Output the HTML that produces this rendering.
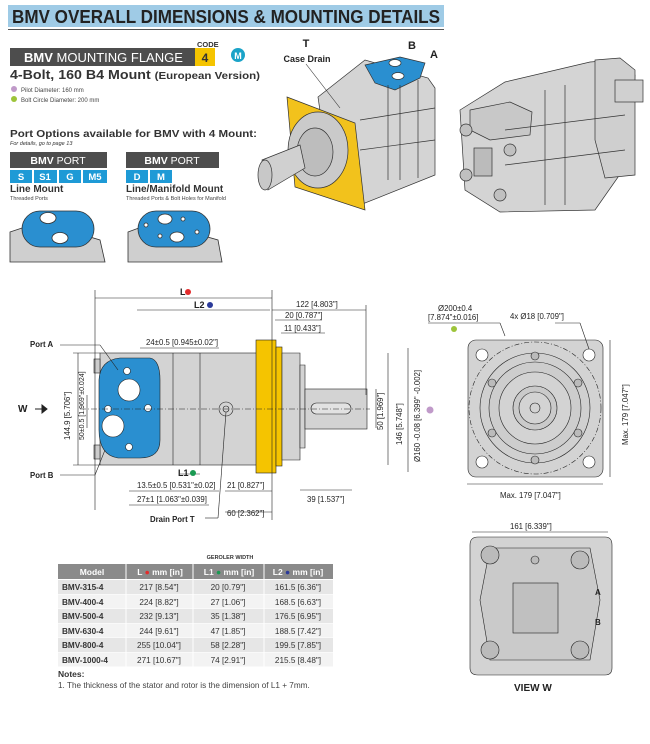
<!DOCTYPE html>
<html><head><meta charset="utf-8"><style>
html,body{margin:0;padding:0;background:#fff}
svg{display:block}
text{font-family:"Liberation Sans",Arial,sans-serif}
</style></head><body>
<svg width="650" height="744" viewBox="0 0 650 744" xmlns="http://www.w3.org/2000/svg">
<!-- Title -->
<rect x="8" y="5" width="436" height="22" fill="#9fcbe6"/>
<text x="12" y="23" font-size="18.5" font-weight="bold" fill="#222" textLength="428" lengthAdjust="spacingAndGlyphs">BMV OVERALL DIMENSIONS &amp; MOUNTING DETAILS</text>
<line x1="8" y1="29.5" x2="444" y2="29.5" stroke="#555" stroke-width="1"/>

<!-- Mounting flange -->
<text x="197" y="47" font-size="7.5" font-weight="bold" fill="#333">CODE</text>
<rect x="10" y="48" width="185" height="18" fill="#4d4d4d"/>
<text x="24" y="62" font-size="13" font-weight="bold" fill="#fff">BMV <tspan font-weight="normal">MOUNTING FLANGE</tspan></text>
<rect x="195" y="48" width="20" height="18" fill="#f5c400"/>
<text x="205" y="62" font-size="12" font-weight="bold" fill="#333" text-anchor="middle">4</text>
<circle cx="238" cy="55" r="7" fill="#1aa3c8"/>
<text x="238" y="59" font-size="9" font-weight="bold" fill="#fff" text-anchor="middle">M</text>
<text x="10" y="79" font-size="13" font-weight="bold" fill="#333" textLength="250" lengthAdjust="spacingAndGlyphs">4-Bolt, 160 B4 Mount <tspan font-size="10.5">(European Version)</tspan></text>
<circle cx="14" cy="89" r="3" fill="#c09ac9"/>
<text x="21" y="92" font-size="6" fill="#444">Pilot Diameter: 160 mm</text>
<circle cx="14" cy="99" r="3" fill="#9dc43a"/>
<text x="21" y="102" font-size="6" fill="#444">Bolt Circle Diameter: 200 mm</text>

<text x="10" y="137" font-size="10.5" font-weight="bold" fill="#333" textLength="247" lengthAdjust="spacingAndGlyphs">Port Options available for BMV with 4 Mount:</text>
<text x="10" y="145" font-size="5.5" font-style="italic" fill="#333">For details, go to page 13</text>

<rect x="10" y="152" width="97" height="16" fill="#4d4d4d"/>
<text x="58" y="164" font-size="10.5" font-weight="bold" fill="#fff" text-anchor="middle">BMV <tspan font-weight="normal">PORT</tspan></text>
<g font-size="9.5" font-weight="bold" fill="#fff" text-anchor="middle">
<rect x="10" y="170" width="22" height="13" fill="#1e9ad6"/><text x="21" y="180">S</text>
<rect x="34" y="170" width="23" height="13" fill="#1e9ad6"/><text x="45" y="180">S1</text>
<rect x="59" y="170" width="22" height="13" fill="#1e9ad6"/><text x="70" y="180">G</text>
<rect x="83" y="170" width="24" height="13" fill="#1e9ad6"/><text x="95" y="180">M5</text>
<rect x="126" y="170" width="22" height="13" fill="#1e9ad6"/><text x="137" y="180">D</text>
<rect x="150" y="170" width="22" height="13" fill="#1e9ad6"/><text x="161" y="180">M</text>
</g>
<text x="10" y="192" font-size="10" font-weight="bold" fill="#333">Line Mount</text>
<text x="10" y="200" font-size="5.5" fill="#444">Threaded Ports</text>
<rect x="126" y="152" width="93" height="16" fill="#4d4d4d"/>
<text x="172" y="164" font-size="10.5" font-weight="bold" fill="#fff" text-anchor="middle">BMV <tspan font-weight="normal">PORT</tspan></text>
<text x="126" y="192" font-size="10" font-weight="bold" fill="#333">Line/Manifold Mount</text>
<text x="126" y="200" font-size="5.5" fill="#444">Threaded Ports &amp; Bolt Holes for Manifold</text>

<!-- port images -->
<g stroke="#333" stroke-width="0.8">
<path d="M10 232 L40 222 L100 240 L105 262 L10 262Z" fill="#cfcfcf"/>
<rect x="22" y="211" width="72" height="36" rx="18" fill="#2a8fd0"/>
<ellipse cx="48" cy="218" rx="8" ry="5.5" fill="#fff"/>
<ellipse cx="60" cy="238" rx="8" ry="5.5" fill="#fff"/>
<path d="M128 232 L155 222 L218 240 L222 262 L128 262Z" fill="#cfcfcf"/>
<rect x="138" y="211" width="72" height="36" rx="18" fill="#2a8fd0"/>
<ellipse cx="165" cy="219" rx="7" ry="5" fill="#fff"/>
<ellipse cx="177" cy="237" rx="7" ry="5" fill="#fff"/>
<circle cx="146" cy="225" r="2" fill="#fff"/><circle cx="160" cy="236" r="2" fill="#fff"/>
<circle cx="183" cy="219" r="2" fill="#fff"/><circle cx="197" cy="232" r="2" fill="#fff"/>
</g>

<!-- 3D motor 1 -->
<text x="306" y="47" font-size="11" font-weight="bold" fill="#222" text-anchor="middle">T</text>
<text x="307" y="62" font-size="9" font-weight="bold" fill="#222" text-anchor="middle">Case Drain</text>
<text x="408" y="49" font-size="11" font-weight="bold" fill="#222">B</text>
<text x="430" y="58" font-size="11" font-weight="bold" fill="#222">A</text>
<g stroke="#333" stroke-width="0.7">
<path d="M318 97 L365 60 L428 78 L435 88 L435 175 L360 205 L330 180Z" fill="#d4d4d4"/>
<path d="M287 97 L355 123 L365 210 L295 187Z" fill="#f2c21c"/>
<ellipse cx="318" cy="150" rx="30" ry="38" fill="#cacaca"/>
<ellipse cx="315" cy="152" rx="18" ry="24" fill="#bdbdbd"/>
<path d="M262 160 L300 145 L305 168 L268 190Z" fill="#d0d0d0"/>
<ellipse cx="265" cy="175" rx="7" ry="15" fill="#c8c8c8"/>
<path d="M365 65 L400 57 L425 63 L420 78 L395 90 L375 83Z" fill="#2a8fd0"/>
<ellipse cx="395" cy="63" rx="6" ry="3.5" fill="#fff"/><ellipse cx="398" cy="76" rx="6" ry="3.5" fill="#fff"/>
<line x1="388" y1="85" x2="388" y2="180"/><line x1="400" y1="85" x2="400" y2="180"/><line x1="418" y1="80" x2="418" y2="178"/>
<line x1="360" y1="120" x2="435" y2="108"/><line x1="360" y1="150" x2="435" y2="140"/>
</g>
<line x1="306" y1="64" x2="340" y2="108" stroke="#333" stroke-width="0.6"/>
<!-- 3D motor 2 -->
<g stroke="#333" stroke-width="0.7">
<path d="M460 110 L505 82 L590 62 L615 60 L635 75 L630 160 L595 210 L500 212 L465 190Z" fill="#d4d4d4"/>
<path d="M595 60 L620 58 L635 70 L635 175 L605 178 L595 140Z" fill="#cfcfcf"/>
<rect x="615" y="80" width="28" height="22" fill="#d0d0d0"/>
<path d="M470 110 L510 102 L532 112 L530 135 L490 140 L470 130Z" fill="#c8c8c8"/>
<rect x="474" y="148" width="18" height="28" fill="#bbb"/>
<circle cx="466" cy="130" r="6" fill="#c0c0c0"/><circle cx="466" cy="175" r="6" fill="#c0c0c0"/>
<circle cx="500" cy="195" r="6" fill="#c0c0c0"/><circle cx="510" cy="150" r="6" fill="#c0c0c0"/>
<line x1="545" y1="90" x2="545" y2="205"/><line x1="565" y1="85" x2="565" y2="205"/>
<line x1="505" y1="130" x2="625" y2="115"/><line x1="505" y1="165" x2="625" y2="150"/>
</g>

<!-- side view -->
<g stroke="#222" stroke-width="0.6" fill="none">
<rect x="100" y="353" width="157" height="112" fill="#d3d3d3"/>
<rect x="256" y="340" width="20" height="133" fill="#f5c400"/>
<rect x="276" y="347" width="6" height="119" fill="#f5c400"/>
<path d="M282 353 L300 353 L300 460 L282 460Z" fill="#d3d3d3"/>
<path d="M300 365 L305 365 L305 448 L300 448Z" fill="#d3d3d3"/>
<rect x="305" y="389" width="62" height="40" fill="#d3d3d3"/>
<rect x="311" y="403" width="40" height="11" rx="5.5" fill="#e2e2e2"/>
<path d="M99 380 Q100 360 120 358 L150 358 Q160 360 160 380 L160 440 Q160 458 140 458 L118 458 Q99 455 99 430Z" fill="#2a8fd0"/>
<circle cx="129" cy="390" r="11" fill="#fff"/><circle cx="113" cy="426" r="11" fill="#fff"/>
<circle cx="127" cy="371" r="3.5" fill="#fff"/><circle cx="108" cy="409" r="3.5" fill="#fff"/>
<circle cx="148" cy="408" r="3.5" fill="#fff"/><circle cx="129" cy="447" r="3.5" fill="#fff"/>
<rect x="94" y="359" width="6" height="14" fill="#ccc"/><rect x="94" y="445" width="6" height="14" fill="#ccc"/>
<line x1="173" y1="353" x2="173" y2="465"/><line x1="200" y1="353" x2="200" y2="465"/>
<circle cx="226" cy="409" r="7" fill="#d3d3d3"/><circle cx="226" cy="409" r="3"/>
<line x1="80" y1="409" x2="370" y2="409" stroke-dasharray="6 2 1 2"/>
<!-- dimension lines -->
<line x1="95" y1="298" x2="272" y2="298"/>
<line x1="137" y1="310" x2="270" y2="310"/>
<line x1="272" y1="310" x2="366" y2="310"/>
<line x1="275" y1="320" x2="322" y2="320"/>
<line x1="281" y1="333" x2="325" y2="333"/>
<line x1="140" y1="348" x2="219" y2="348"/>
<line x1="95" y1="290" x2="95" y2="510"/>
<line x1="272" y1="290" x2="272" y2="520"/>
<line x1="366" y1="305" x2="366" y2="395"/>
<line x1="73" y1="353" x2="100" y2="353"/><line x1="73" y1="465" x2="100" y2="465"/>
<line x1="78" y1="353" x2="78" y2="465"/>
<line x1="87" y1="395" x2="87" y2="428"/>
<line x1="376" y1="389" x2="376" y2="428"/>
<line x1="388" y1="353" x2="388" y2="465"/>
<line x1="408" y1="348" x2="408" y2="472"/>
<line x1="129" y1="491" x2="219" y2="491"/>
<line x1="129" y1="505" x2="209" y2="505"/>
<line x1="225" y1="491" x2="272" y2="491"/>
<line x1="225" y1="512" x2="272" y2="512"/>
<line x1="300" y1="490" x2="352" y2="490"/>
<line x1="180" y1="474" x2="200" y2="474"/>
<line x1="60" y1="345" x2="100" y2="345"/><line x1="100" y1="345" x2="118" y2="370"/>
<line x1="60" y1="475" x2="95" y2="475"/><line x1="95" y1="475" x2="105" y2="450"/>
<line x1="205" y1="518" x2="218" y2="518"/><line x1="218" y1="518" x2="226" y2="412"/>
</g>
<g font-size="7.8" fill="#222">
<text x="180" y="295" font-weight="bold" font-size="9">L</text><circle cx="188" cy="292" r="3" fill="#e32b2b"/>
<text x="194" y="308" font-weight="bold" font-size="9">L2</text><circle cx="210" cy="305" r="3" fill="#2b3a9a"/>
<text x="296" y="307">122 [4.803"]</text>
<text x="285" y="318">20 [0.787"]</text>
<text x="284" y="331">11 [0.433"]</text>
<text x="146" y="345">24±0.5 [0.945±0.02"]</text>
<text x="30" y="347" font-weight="bold">Port A</text>
<text x="30" y="478" font-weight="bold">Port B</text>
<text x="18" y="412" font-weight="bold" font-size="10">W</text>
<path d="M35 409 L44 409 M42 405 L47 409 L42 413Z" stroke="#222" fill="#222"/>
<text x="178" y="476" font-weight="bold" font-size="9">L1</text><circle cx="193" cy="473" r="3" fill="#1a9a52"/>
<text x="137" y="488">13.5±0.5 [0.531"±0.02]</text>
<text x="227" y="488">21 [0.827"]</text>
<text x="137" y="502">27±1 [1.063"±0.039]</text>
<text x="227" y="516">60 [2.362"]</text>
<text x="307" y="502">39 [1.537"]</text>
<text x="150" y="522" font-weight="bold">Drain Port T</text>
<text transform="translate(70 440) rotate(-90)">144.9 [5.706"]</text>
<text transform="translate(84 440) rotate(-90)" font-size="7">50±0.5 [1.969"±0.024]</text>
<text transform="translate(383 430) rotate(-90)">50 [1.969"]</text>
<text transform="translate(402 445) rotate(-90)">146 [5.748"]</text>
<text transform="translate(420 462) rotate(-90)">Ø160 -0.08 [6.399" -0.002]</text>
<circle cx="430" cy="410" r="3.5" fill="#c09ac9"/>
</g>

<!-- front view -->
<g stroke="#222" stroke-width="0.6">
<rect x="468" y="340" width="135" height="137" rx="8" fill="#d3d3d3"/>
<circle cx="535" cy="408" r="66" fill="none" stroke-dasharray="5 2 1 2"/>
<circle cx="535" cy="408" r="55" fill="#d0d0d0"/>
<circle cx="535" cy="408" r="46" fill="#cdcdcd"/>
<circle cx="535" cy="408" r="36" fill="#d3d3d3"/>
<circle cx="535" cy="408" r="22" fill="#cacaca"/>
<circle cx="535" cy="408" r="16" fill="#d3d3d3"/>
<circle cx="535" cy="408" r="5" fill="#d3d3d3"/>
<g fill="#fff"><circle cx="482" cy="355" r="6"/><circle cx="589" cy="355" r="6"/><circle cx="482" cy="462" r="6"/><circle cx="589" cy="462" r="6"/></g>
<g fill="#bbb"><circle cx="535" cy="356" r="4"/><circle cx="535" cy="460" r="4"/><circle cx="492" cy="383" r="4"/><circle cx="578" cy="383" r="4"/><circle cx="492" cy="433" r="4"/><circle cx="578" cy="433" r="4"/></g>
<line x1="610" y1="340" x2="610" y2="477"/><line x1="467" y1="484" x2="603" y2="484"/>
<line x1="428" y1="323" x2="500" y2="323" fill="none"/><line x1="500" y1="323" x2="505" y2="336"/>
<line x1="555" y1="323" x2="580" y2="323"/><line x1="580" y1="323" x2="589" y2="349"/>
</g>
<g font-size="7.8" fill="#222">
<text x="438" y="311">Ø200±0.4</text>
<text x="428" y="320">[7.874"±0.016]</text>
<circle cx="454" cy="329" r="3" fill="#9dc43a"/>
<text x="510" y="319">4x Ø18 [0.709"]</text>
<text x="500" y="498">Max. 179 [7.047"]</text>
<text transform="translate(628 445) rotate(-90)">Max. 179 [7.047"]</text>
<text x="510" y="529">161 [6.339"]</text>
</g>
<!-- view W -->
<g stroke="#222" stroke-width="0.6">
<line x1="472" y1="532" x2="608" y2="532"/>
<path d="M478 537 L605 537 Q612 537 612 545 L612 668 Q612 675 605 675 L478 675 Q470 675 470 668 L470 545 Q470 537 478 537Z" fill="#d3d3d3"/>
<path d="M490 548 L590 548 L600 600 L590 660 L490 660 L480 600Z" fill="#cacaca"/>
<rect x="513" y="583" width="45" height="50" fill="#c0c0c0"/>
<g fill="#bbb"><circle cx="490" cy="555" r="9"/><circle cx="580" cy="560" r="9"/><circle cx="490" cy="650" r="9"/><circle cx="580" cy="650" r="9"/></g>
<circle cx="535" cy="560" r="4" fill="#bbb"/>
</g>
<text x="595" y="595" font-size="8" font-weight="bold" fill="#222">A</text>
<text x="595" y="625" font-size="8" font-weight="bold" fill="#222">B</text>
<text x="514" y="691" font-size="10" font-weight="bold" fill="#222">VIEW W</text>

<!-- table -->
<text x="230" y="559" font-size="5.5" font-weight="bold" fill="#333" text-anchor="middle">GEROLER WIDTH</text>
<rect x="58" y="564" width="275" height="15" fill="#8a8a8a"/>
<g font-size="8.5" font-weight="bold" fill="#fff" text-anchor="middle">
<text x="92" y="575">Model</text>
<text x="160" y="575">L <tspan fill="#e32b2b">●</tspan> mm [in]</text>
<text x="229" y="575">L1 <tspan fill="#1a9a52">●</tspan> mm [in]</text>
<text x="298" y="575">L2 <tspan fill="#2b3a9a">●</tspan> mm [in]</text>
</g>
<g fill="#e6e6e6"><rect x="58" y="580" width="275" height="14"/><rect x="58" y="609" width="275" height="14"/><rect x="58" y="638" width="275" height="14"/></g>
<g fill="#f3f3f3"><rect x="58" y="594.5" width="275" height="14"/><rect x="58" y="623.5" width="275" height="14"/><rect x="58" y="652.5" width="275" height="14"/></g>
<g stroke="#fff" stroke-width="1"><line x1="126" y1="564" x2="126" y2="667"/><line x1="193" y1="564" x2="193" y2="667"/><line x1="264" y1="564" x2="264" y2="667"/></g>
<g font-size="8.2" fill="#333">
<g font-weight="bold"><text x="62" y="590">BMV-315-4</text><text x="62" y="605">BMV-400-4</text><text x="62" y="619">BMV-500-4</text><text x="62" y="634">BMV-630-4</text><text x="62" y="648">BMV-800-4</text><text x="62" y="663">BMV-1000-4</text></g>
<g text-anchor="middle"><text x="159" y="590">217 [8.54"]</text><text x="159" y="605">224 [8.82"]</text><text x="159" y="619">232 [9.13"]</text><text x="159" y="634">244 [9.61"]</text><text x="159" y="648">255 [10.04"]</text><text x="159" y="663">271 [10.67"]</text></g>
<g text-anchor="middle"><text x="228" y="590">20 [0.79"]</text><text x="228" y="605">27 [1.06"]</text><text x="228" y="619">35 [1.38"]</text><text x="228" y="634">47 [1.85"]</text><text x="228" y="648">58 [2.28"]</text><text x="228" y="663">74 [2.91"]</text></g>
<g text-anchor="middle"><text x="298" y="590">161.5 [6.36"]</text><text x="298" y="605">168.5 [6.63"]</text><text x="298" y="619">176.5 [6.95"]</text><text x="298" y="634">188.5 [7.42"]</text><text x="298" y="648">199.5 [7.85"]</text><text x="298" y="663">215.5 [8.48"]</text></g>
</g>
<text x="58" y="677" font-size="8.5" font-weight="bold" fill="#333">Notes:</text>
<text x="58" y="688" font-size="8.2" fill="#444">1.  The thickness of the stator and rotor is the dimension of L1 + 7mm.</text>
</svg>
</body></html>
